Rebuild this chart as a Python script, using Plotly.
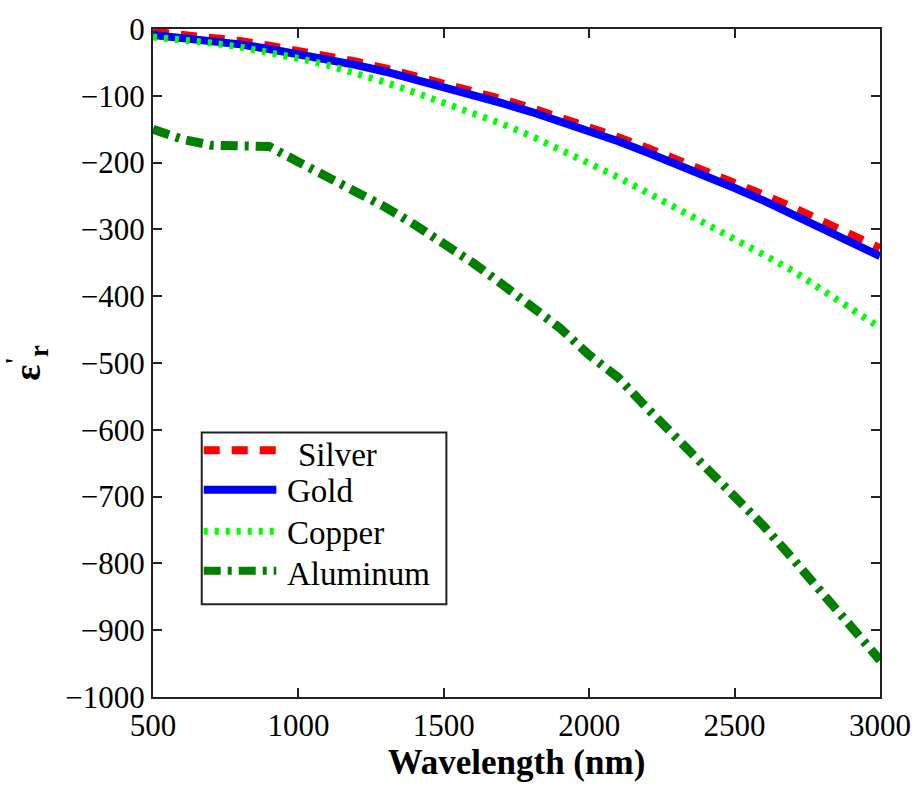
import plotly.graph_objects as go

wavelength = [500, 600, 700, 800, 900, 1000, 1100, 1200, 1300, 1400, 1500, 1600, 1700,
              1800, 1900, 2000, 2100, 2200, 2300, 2400, 2500, 2600, 2700, 2800, 2900, 3000]

silver = [-4, -8, -13, -18, -25, -32, -40, -49, -59, -70, -81, -93, -105,
          -118, -132, -147, -162, -178, -195, -212, -230, -248, -267, -287, -307, -328]
gold = [-9, -13, -18, -23, -30, -37, -45, -54, -64, -75, -86, -98, -111,
        -124, -138, -153, -168, -185, -202, -220, -238, -257, -277, -297, -318, -340]
copper = [-12, -16, -21, -27, -35, -44, -54, -66, -80, -95, -110, -125, -142,
          -160, -180, -202, -222, -245, -268, -290, -313, -338, -362, -390, -418, -447]
aluminum = [-150, -165, -174, -174, -176, -199, -221, -244, -267, -293, -321, -350, -382,
            -414, -448, -488, -522, -568, -612, -656, -698, -744, -793, -843, -893, -945]

series_names = ["Silver", "Gold", "Copper", "Aluminum"]
series_values = [silver, gold, copper, aluminum]
series_colors = ["#ff0000", "#0000ff", "#00ff00", "#008000"]
series_dash = ["16px,12px", "solid", "4px,7px", "17px,7px,4px,7px"]
series_width = [8, 8, 7, 9]

x_ticks = [500, 1000, 1500, 2000, 2500, 3000]
y_ticks = [0, -100, -200, -300, -400, -500, -600, -700, -800, -900, -1000]

FONT = "Liberation Serif, Times New Roman, serif"

fig = go.Figure()
for name, vals, col, dash, w in zip(series_names, series_values, series_colors, series_dash, series_width):
    fig.add_trace(go.Scatter(x=wavelength, y=vals, mode="lines", name=name,
                             line=dict(color=col, dash=dash, width=w), showlegend=False))

# manual legend (matching the long line samples of the original)
L, T, W, H = 153, 20, 731, 677
def px(x):
    return (x - L) / W
def py(y):
    return (T + H - y) / H

shapes = [dict(type="rect", xref="paper", yref="paper", x0=px(202), x1=px(448),
               y0=py(603), y1=py(429), line=dict(color="#222", width=2), fillcolor="white", layer="above")]
legend_rows = [447, 487, 529, 569]
text_rows = [452, 488, 531, 572]
text_x = [297, 286, 286, 286]
annotations = []
for i, name in enumerate(series_names):
    shapes.append(dict(type="line", xref="paper", yref="paper", x0=px(204), x1=px(277),
                       y0=py(legend_rows[i]), y1=py(legend_rows[i]),
                       line=dict(color=series_colors[i], width=series_width[i] if i != 3 else 8,
                                 dash=series_dash[i]), layer="above"))
    annotations.append(dict(text=name, xref="paper", yref="paper", x=px(text_x[i]), y=py(text_rows[i]),
                            xanchor="left", yanchor="middle", showarrow=False,
                            font=dict(family=FONT, size=33, color="black")))

fig.update_layout(
    width=923, height=787,
    margin=dict(l=L, r=923 - L - W, t=T, b=787 - T - H),
    paper_bgcolor="white", plot_bgcolor="white",
    shapes=shapes, annotations=annotations,
    font=dict(family=FONT, size=31, color="black"),
    xaxis=dict(range=[500, 3000], tickvals=x_ticks, ticks="inside", ticklen=9, tickwidth=2,
               tickcolor="#222", showline=True, linecolor="#222", linewidth=2, mirror="ticks",
               showgrid=False, zeroline=False,
               tickfont=dict(family=FONT, size=31, color="black"),
               title=dict(text="<b>Wavelength (nm)</b>", standoff=4,
                          font=dict(family=FONT, size=35, color="black"))),
    yaxis=dict(range=[-1000, 0], tickvals=y_ticks, ticks="inside", ticklen=9, tickwidth=2,
               tickcolor="#222", showline=True, linecolor="#222", linewidth=2, mirror="ticks",
               showgrid=False, zeroline=False,
               tickfont=dict(family=FONT, size=31, color="black"),
               title=dict(text="<b>ε<sup>'</sup><sub>r</sub></b>", standoff=18,
                          font=dict(family=FONT, size=38, color="black"))),
)

fig.write_html("out.html")
